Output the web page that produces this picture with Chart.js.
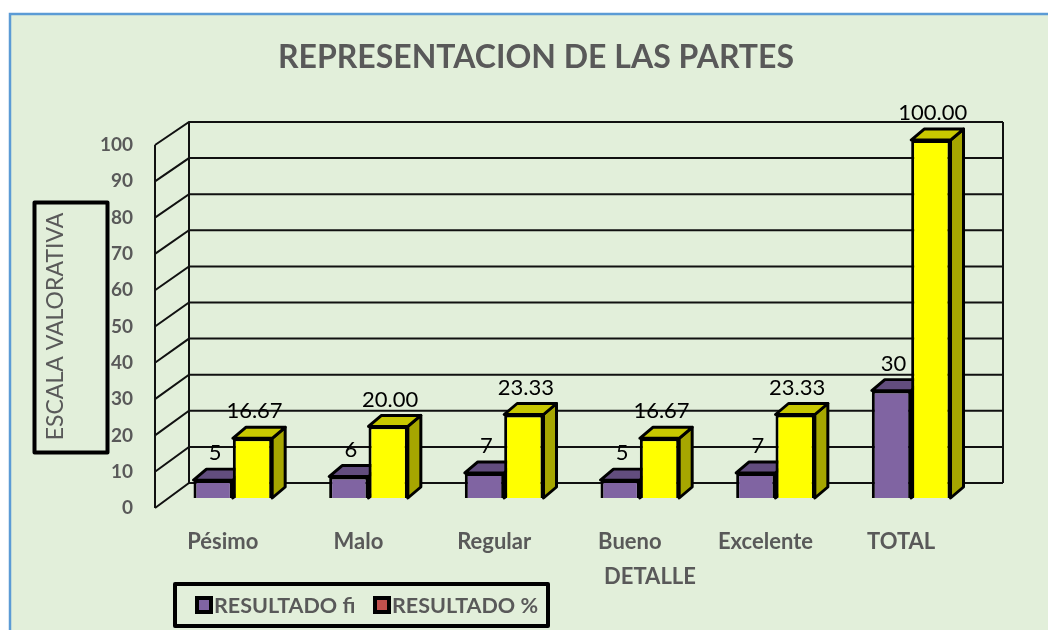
<!DOCTYPE html>
<html>
<head>
<meta charset="utf-8">
<script src="https://cdn.jsdelivr.net/npm/chart.js@4.4.1/dist/chart.umd.min.js"></script>
<style>
  html, body { margin: 0; padding: 0; background: #fff; }
  #wrap { width: 1048px; height: 630px; }
</style>
</head>
<body>
<div id="wrap"><canvas id="chart" width="1048" height="630"></canvas></div>
<script>
const CATEGORIES = ['Pésimo', 'Malo', 'Regular', 'Bueno', 'Excelente', 'TOTAL'];
const RESULTADO_FI = [5, 6, 7, 5, 7, 30];
const RESULTADO_PCT = [16.67, 20.00, 23.33, 16.67, 23.33, 100.00];
const SERIES_NAMES = ['RESULTADO fi', 'RESULTADO %'];
const Y_MIN = 0, Y_MAX = 100, Y_STEP = 10;

const TITLE = 'REPRESENTACION DE LAS PARTES';
const Y_TITLE = 'ESCALA VALORATIVA';
const X_TITLE = 'DETALLE';

const GRAY = '#595959';
const FONT = 'Lato, "Open Sans", sans-serif';

// face colours: front, top, side
const FACES = [
  { front: '#8064a2', top: '#624d7e', side: '#4f3d66' },
  { front: '#ffff00', top: '#c8c800', side: '#a6a600' },
];
const LEGEND_MARKS = ['#8064a2', '#c0504d'];

// depth offsets (px)
const WALL = { dx: 34, dy: -25, k: 361 / 363 };   // back wall relative to front plane
const BARPLANE = { dx: 10, dy: -10, k: 0.986 };   // plane the bars stand on
const BAR_DEPTH = { dx: 13, dy: -11 };

function planeY(f0, y, p) { return f0 + p.dy + (y - f0) * p.k; }

const scene3d = {
  id: 'scene3d',
  beforeDraw(chart) {
    const { ctx, width, height } = chart;
    ctx.save();
    ctx.fillStyle = '#ffffff';
    ctx.fillRect(0, 0, width, height);
    ctx.fillStyle = '#e2efda';
    ctx.fillRect(10, 14, width - 10, height - 14);
    ctx.strokeStyle = '#5b9bd5';
    ctx.lineWidth = 2.5;
    ctx.beginPath();
    ctx.moveTo(10, height);
    ctx.lineTo(10, 14);
    ctx.lineTo(width, 14);
    ctx.stroke();
    ctx.restore();
  },
  beforeDatasetsDraw(chart) {
    const { ctx, chartArea } = chart;
    const y = chart.scales.y;
    const f0 = y.getPixelForValue(Y_MIN);
    const left = chartArea.left, right = chartArea.right;

    // walls: left side panel + back wall
    ctx.save();
    ctx.strokeStyle = '#111';
    ctx.lineWidth = 2;
    ctx.beginPath();
    const fTop = y.getPixelForValue(Y_MAX);
    ctx.moveTo(left, fTop); ctx.lineTo(left, f0);
    const bx = left + WALL.dx, rx = right + WALL.dx;
    ctx.moveTo(bx, planeY(f0, fTop, WALL)); ctx.lineTo(bx, planeY(f0, f0, WALL));
    ctx.moveTo(rx, planeY(f0, fTop, WALL)); ctx.lineTo(rx, planeY(f0, f0, WALL));
    for (let v = Y_MIN; v <= Y_MAX; v += Y_STEP) {
      const fy = y.getPixelForValue(v);
      const by = planeY(f0, fy, WALL);
      ctx.moveTo(left, fy); ctx.lineTo(bx, by);
      ctx.lineTo(rx, by);
    }
    ctx.stroke();
    ctx.restore();

    // bar plane transform, then top and side faces
    ctx.save();
    ctx.translate(BARPLANE.dx, f0 + BARPLANE.dy);
    ctx.scale(1, BARPLANE.k);
    ctx.translate(0, -f0);
    ctx.lineWidth = 3;
    ctx.lineJoin = 'round';
    ctx.strokeStyle = '#000';
    chart.data.datasets.forEach((ds, di) => {
      const meta = chart.getDatasetMeta(di);
      meta.data.forEach(bar => {
        const { x, y: top, base, width } = bar.getProps(['x', 'y', 'base', 'width'], true);
        const L = x - width / 2, R = x + width / 2;
        const dx = BAR_DEPTH.dx, dy = BAR_DEPTH.dy / BARPLANE.k;
        ctx.fillStyle = FACES[di].side;
        ctx.beginPath();
        ctx.moveTo(R, top); ctx.lineTo(R + dx, top + dy);
        ctx.lineTo(R + dx, base + dy); ctx.lineTo(R, base); ctx.closePath();
        ctx.fill(); ctx.stroke();
        ctx.fillStyle = FACES[di].top;
        ctx.beginPath();
        ctx.moveTo(L, top); ctx.lineTo(L + dx, top + dy);
        ctx.lineTo(R + dx, top + dy); ctx.lineTo(R, top); ctx.closePath();
        ctx.fill(); ctx.stroke();
      });
    });
  },
  afterDatasetsDraw(chart) {
    const { ctx } = chart;
    ctx.restore();
    const f0 = chart.scales.y.getPixelForValue(Y_MIN);
    ctx.save();
    ctx.fillStyle = '#000';
    ctx.font = '22px ' + FONT;
    ctx.textAlign = 'center';
    ctx.textBaseline = 'middle';
    chart.data.datasets.forEach((ds, di) => {
      const meta = chart.getDatasetMeta(di);
      meta.data.forEach((bar, i) => {
        const { x, y: top } = bar.getProps(['x', 'y'], true);
        const v = ds.data[i];
        const txt = di === 0 ? String(v) : v.toFixed(2);
        ctx.fillText(txt, x + BARPLANE.dx + 2, planeY(f0, top, BARPLANE) - 27);
      });
    });
    ctx.restore();
  },
  afterDraw(chart) {
    const { ctx } = chart;
    ctx.save();
    // title
    ctx.fillStyle = GRAY;
    ctx.textAlign = 'center';
    ctx.textBaseline = 'middle';
    ctx.font = 'bold 32px ' + FONT;
    ctx.fillText(TITLE, 536, 58);
    // x title
    ctx.font = 'bold 22px ' + FONT;
    ctx.fillText(X_TITLE, 650, 577);
    // y title box
    ctx.strokeStyle = '#000';
    ctx.lineWidth = 4;
    ctx.lineJoin = 'round';
    ctx.strokeRect(34.5, 202.5, 73, 250);
    // legend
    ctx.strokeRect(175, 584, 373, 42);
    const items = [{ x: 195, tx: 214 }, { x: 373, tx: 392 }];
    ctx.textAlign = 'left';
    ctx.font = 'bold 21.5px ' + FONT;
    items.forEach((it, i) => {
      ctx.fillStyle = '#000';
      ctx.fillRect(it.x, 596, 18, 18);
      ctx.fillStyle = LEGEND_MARKS[i];
      ctx.fillRect(it.x + 4, 600, 10, 10);
      ctx.fillStyle = GRAY;
      ctx.fillText(SERIES_NAMES[i], it.tx, 606);
    });
    ctx.restore();
  },
};

new Chart(document.getElementById('chart'), {
  type: 'bar',
  data: {
    labels: CATEGORIES,
    datasets: [
      { label: SERIES_NAMES[0], data: RESULTADO_FI, backgroundColor: FACES[0].front,
        borderColor: '#000', borderWidth: 3, clip: false },
      { label: SERIES_NAMES[1], data: RESULTADO_PCT, backgroundColor: FACES[1].front,
        borderColor: '#000', borderWidth: 3, clip: false },
    ],
  },
  options: {
    responsive: false,
    devicePixelRatio: 1,
    animation: false,
    datasets: { bar: { categoryPercentage: 0.58, barPercentage: 1 } },
    layout: { padding: { top: 145, right: 79, bottom: 42, left: 0 } },
    scales: {
      x: {
        grid: { display: false },
        border: { display: false },
        ticks: { color: GRAY, font: { family: FONT, size: 22, weight: 'bold' }, padding: 13 },
        afterFit(scale) { scale.height = 80; },
      },
      y: {
        min: Y_MIN, max: Y_MAX,
        grid: { display: false, drawTicks: false },
        border: { display: false },
        ticks: { stepSize: Y_STEP, color: GRAY, font: { family: FONT, size: 19, weight: 'bold' }, padding: 22 },
        title: { display: true, text: Y_TITLE, color: GRAY, font: { family: FONT, size: 23 }, padding: { top: 42 } },
        afterFit(scale) { scale.width = 155; },
      },
    },
    plugins: { legend: { display: false }, tooltip: { enabled: false }, title: { display: false } },
  },
  plugins: [scene3d],
});
</script>
</body>
</html>
